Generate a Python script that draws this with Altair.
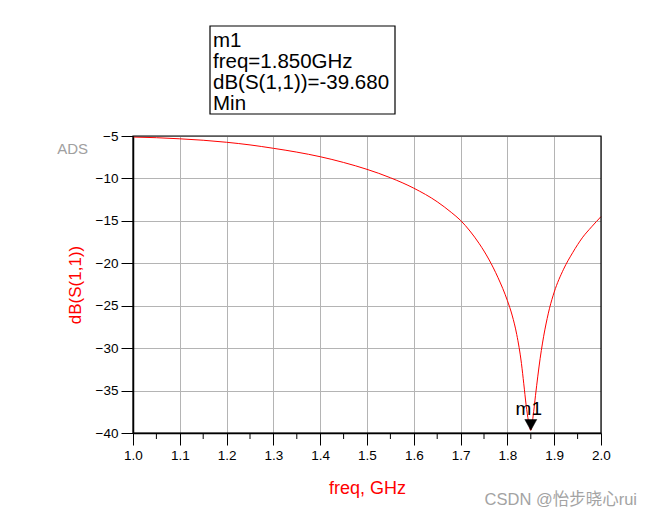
import altair as alt
import pandas as pd

# ---- data ----
freq = [1.00, 1.05, 1.10, 1.15, 1.20, 1.25, 1.30, 1.35, 1.40, 1.45, 1.50, 1.55,
        1.60, 1.65, 1.68, 1.70, 1.72, 1.74, 1.76, 1.78, 1.80, 1.81, 1.82, 1.83,
        1.835, 1.84, 1.845, 1.85, 1.855, 1.86, 1.865, 1.87, 1.875, 1.88, 1.885, 1.89,
        1.90, 1.92, 1.94, 1.96, 1.98, 2.00]
db_s11 = [-5.12, -5.20, -5.33, -5.50, -5.74, -6.05, -6.45, -6.90, -7.44, -8.12, -8.93, -9.92,
          -11.15, -12.75, -14.0, -14.95, -16.2, -17.7, -19.5, -21.7, -24.4, -26.1, -28.4, -31.8,
          -34.2, -36.7, -38.6, -39.68, -38.0, -35.6, -33.3, -31.2, -29.4, -27.85, -26.5, -25.3,
          -23.4, -20.7, -18.7, -17.0, -15.7, -14.5]

x_ticks = [1.0, 1.1, 1.2, 1.3, 1.4, 1.5, 1.6, 1.7, 1.8, 1.9, 2.0]
x_minor = [1.05, 1.15, 1.25, 1.35, 1.45, 1.55, 1.65, 1.75, 1.85, 1.95]
y_ticks = [-40, -35, -30, -25, -20, -15, -10, -5]

marker_name = "m1"
marker_freq = 1.850
marker_db = -39.680
marker_kind = "Min"

W, H = 468, 297
FONT = "Liberation Sans, Arial, Noto Sans CJK SC, sans-serif"

df = pd.DataFrame({"freq": freq, "db": db_s11})
minor_df = pd.DataFrame({"freq": x_minor})
mk_df = pd.DataFrame({"freq": [marker_freq], "db": [marker_db], "name": [marker_name]})
box_lines = [marker_name, f"freq={marker_freq:.3f}GHz", f"dB(S(1,1))={marker_db:.3f}", marker_kind]

xscale = alt.Scale(domain=[1.0, 2.0], nice=False, zero=False)
yscale = alt.Scale(domain=[-40, -5], nice=False, zero=False)

x_axis = alt.Axis(values=x_ticks, format=".1f", grid=True, gridColor="#b4b4b4", gridWidth=1,
                  tickSize=12, tickColor="black", tickWidth=1, domainColor="black", domainWidth=1.5,
                  labelFont=FONT, labelFontSize=13.5, labelColor="black", labelPadding=3,
                  labelFlush=False, title="freq, GHz", titleColor="#ff0000", titleFont=FONT,
                  titleFontSize=18, titleFontWeight="normal", titleY=60, titleBaseline="alphabetic")
y_axis = alt.Axis(values=y_ticks, format="d", grid=True, gridColor="#b4b4b4", gridWidth=1,
                  tickSize=12, tickColor="black", tickWidth=1, domainColor="black", domainWidth=1.5,
                  labelFont=FONT, labelFontSize=13.5, labelColor="black", labelPadding=3,
                  labelFlush=False, title="dB(S(1,1))", titleColor="#ff0000", titleFont=FONT,
                  titleFontSize=17, titleFontWeight="normal", titleAngle=270, titleX=-53,
                  titleY=H / 2, titleAlign="center", titleBaseline="alphabetic")

X = alt.X("freq:Q", scale=xscale, axis=x_axis)
Y = alt.Y("db:Q", scale=yscale, axis=y_axis)

curve = alt.Chart(df).mark_line(color="#ff0000", strokeWidth=1, interpolate="monotone").encode(
    x=X, y=Y,
)

minor = alt.Chart(minor_df).mark_rule(color="black", strokeWidth=1).encode(
    x=X, y=alt.value(H), y2=alt.value(H + 6),
)

frame = alt.Chart(mk_df).mark_rect(fill="transparent", stroke="black", strokeWidth=1.2).encode(
    x=alt.value(0), x2=alt.value(W), y=alt.value(0), y2=alt.value(H)
)

tri = alt.Chart(mk_df).mark_point(
    shape="M-1,-1.8L1,-1.8L0,0Z", filled=True, fill="black", stroke="black",
    strokeWidth=0.5, size=144, opacity=1
).encode(x=X, y=Y)

tri_label = alt.Chart(mk_df).mark_text(
    font=FONT, fontSize=19, color="black", baseline="alphabetic", align="center", dx=-2, dy=-15
).encode(x=X, y=Y, text="name:N")

box = alt.Chart(mk_df).mark_rect(fill="white", stroke="black", strokeWidth=1.2).encode(
    x=alt.value(77), x2=alt.value(262), y=alt.value(-110), y2=alt.value(-22)
)

box_text = alt.Chart(mk_df).mark_text(
    text=box_lines, font=FONT, fontSize=20.5, color="black", align="left",
    baseline="alphabetic", lineHeight=21
).encode(x=alt.value(80), y=alt.value(-89))

ads = alt.Chart(mk_df).mark_text(
    text="ADS", font=FONT, fontSize=15, color="#a0a0a0",
    align="right", baseline="alphabetic"
).encode(x=alt.value(-45), y=alt.value(18))

wm = alt.Chart(mk_df).mark_text(
    text="CSDN @怡步晓心rui", font=FONT, fontSize=16.5, color="#a3a3a3",
    align="right", baseline="alphabetic"
).encode(x=alt.value(504), y=alt.value(369))

chart = alt.layer(curve, minor, frame, tri, tri_label, box, box_text, ads, wm).properties(
    width=W, height=H,
    autosize=alt.AutoSizeParams(type="none"),
    padding={"left": 133, "top": 136, "right": 50, "bottom": 84},
).configure_view(stroke=None).configure(background="white")

chart.save("out.html", embed_options={"renderer": "svg", "actions": False})
